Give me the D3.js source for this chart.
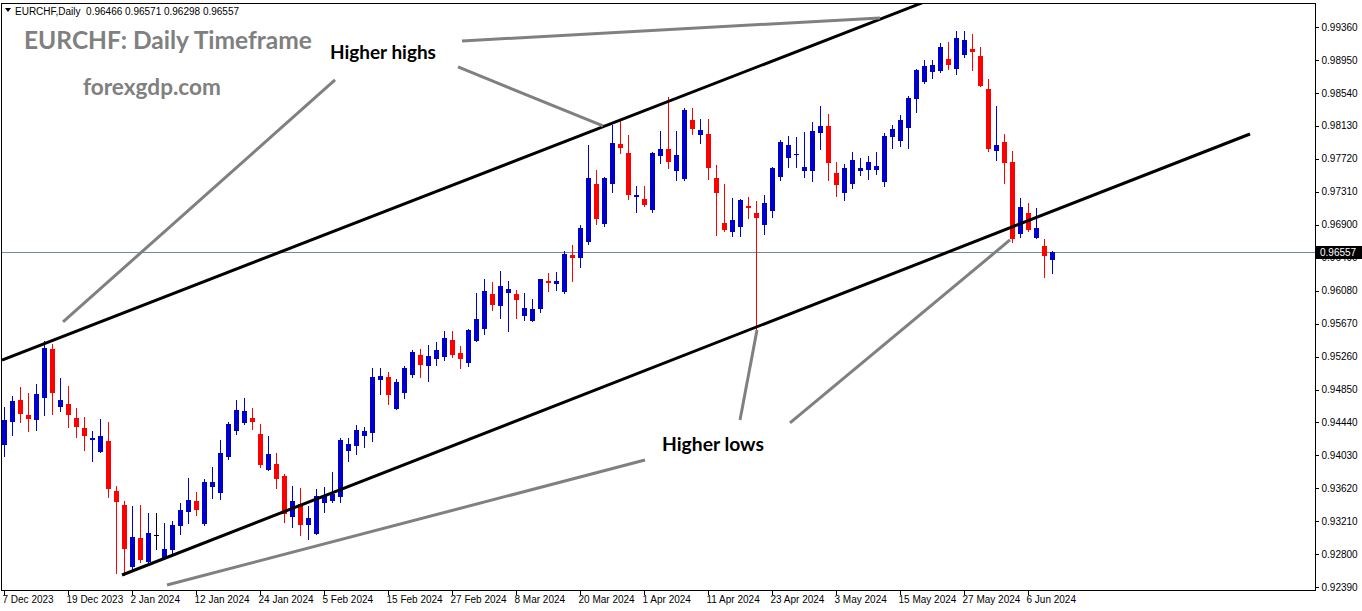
<!DOCTYPE html>
<html><head><meta charset="utf-8">
<script src="https://cdn.jsdelivr.net/npm/d3@7"></script>
<style>
html,body{margin:0;padding:0;background:#fff;}
svg{display:block;}
</style></head>
<body>
<svg id="chart" width="1362" height="611"></svg>
<script>
// ---- data ----
const opens = [0.94160,0.94450,0.94720,0.94533,0.94471,0.94748,0.95354,0.94633,0.94670,0.94496,
0.94372,0.94222,0.94073,0.94210,0.93588,0.93414,0.92643,0.93003,0.92705,0.93037,
0.92755,0.92854,0.93153,0.93327,0.93464,0.93178,0.93638,0.93563,0.94011,0.94334,
0.94434,0.94496,0.94297,0.93849,0.93924,0.93775,0.93265,0.93426,0.93165,0.93053,
0.93439,0.93464,0.93513,0.94086,0.94148,0.94272,0.94309,0.94969,0.95006,0.94608,
0.94807,0.95031,0.95280,0.95143,0.95230,0.95255,0.95466,0.95304,0.95180,0.95454,
0.95603,0.96038,0.95889,0.96051,0.96038,0.95765,0.95702,0.95852,0.96200,0.96163,
0.96063,0.96523,0.96486,0.96685,0.97406,0.96909,0.97406,0.97904,0.97792,0.97245,
0.97220,0.97083,0.97755,0.97842,0.97568,0.97469,0.98202,0.98016,0.98028,0.97481,
0.96921,0.96809,0.96872,0.97133,0.97046,0.96896,0.97071,0.97494,0.97730,0.97767,
0.97568,0.97568,0.98041,0.98128,0.97543,0.97295,0.97406,0.97568,0.97581,0.97581,
0.97431,0.97991,0.97941,0.98103,0.98464,0.98675,0.98800,0.98812,0.98961,0.98837,
0.99011,0.99086,0.98999,0.98588,0.97817,0.97929,0.97680,0.96785,0.97046,0.96735,
0.96635,0.96466];
const highs = [0.94637,0.94770,0.94885,0.94807,0.94919,0.95454,0.95413,0.94993,0.94894,0.94620,
0.94508,0.94334,0.94484,0.94446,0.93650,0.93464,0.93401,0.93414,0.93314,0.93314,
0.93190,0.93215,0.93439,0.93750,0.93576,0.93737,0.93887,0.94222,0.94442,0.94720,
0.94745,0.94620,0.94418,0.94272,0.94061,0.93799,0.93650,0.93625,0.93401,0.93613,
0.93638,0.93824,0.94247,0.94247,0.94409,0.94384,0.95118,0.95118,0.95068,0.94981,
0.95143,0.95342,0.95354,0.95404,0.95441,0.95578,0.95578,0.95392,0.95603,0.96051,
0.96225,0.96188,0.96324,0.96200,0.96088,0.96051,0.95976,0.96225,0.96299,0.96312,
0.96573,0.96648,0.96896,0.97892,0.97581,0.97494,0.98140,0.98215,0.98016,0.97382,
0.97382,0.97804,0.98066,0.98489,0.98066,0.98352,0.98352,0.98215,0.98215,0.97643,
0.97406,0.97232,0.97220,0.97245,0.97195,0.97270,0.97618,0.97954,0.98003,0.97991,
0.98053,0.98178,0.98377,0.98277,0.97680,0.97655,0.97804,0.97730,0.97755,0.97804,
0.98041,0.98140,0.98265,0.98501,0.98837,0.98949,0.98949,0.99160,0.99173,0.99309,
0.99309,0.99272,0.99110,0.98712,0.98377,0.98028,0.97817,0.97232,0.97170,0.97108,
0.96722,0.96571];
const lows = [0.94027,0.94285,0.94450,0.94334,0.94347,0.94533,0.94546,0.94583,0.94384,0.94263,
0.94098,0.93961,0.94073,0.93513,0.92568,0.92543,0.92605,0.92705,0.92668,0.92867,
0.92755,0.92780,0.93053,0.93190,0.93289,0.93165,0.93501,0.93488,0.93986,0.94297,
0.94421,0.94359,0.93887,0.93849,0.93625,0.93202,0.93140,0.93041,0.92991,0.93053,
0.93327,0.93451,0.93451,0.93961,0.94048,0.94135,0.94210,0.94794,0.94670,0.94608,
0.94745,0.95006,0.95006,0.94956,0.95155,0.95217,0.95255,0.95118,0.95143,0.95454,
0.95541,0.95839,0.95740,0.95578,0.95740,0.95715,0.95702,0.95818,0.96076,0.96088,
0.96051,0.96200,0.96374,0.96660,0.96909,0.96884,0.97307,0.97792,0.97220,0.97058,
0.97133,0.97058,0.97668,0.97605,0.97456,0.97456,0.98028,0.97916,0.97469,0.96772,
0.96822,0.96760,0.96760,0.96984,0.95590,0.96785,0.96996,0.97456,0.97618,0.97618,
0.97494,0.97444,0.97842,0.97456,0.97257,0.97207,0.97357,0.97518,0.97469,0.97531,
0.97382,0.97854,0.97879,0.97854,0.98302,0.98663,0.98725,0.98800,0.98837,0.98775,
0.98986,0.98824,0.98625,0.97817,0.97705,0.97419,0.96685,0.96747,0.96822,0.96735,
0.96250,0.96298];
const closes = [0.94471,0.94707,0.94546,0.94484,0.94794,0.95370,0.94811,0.94720,0.94533,0.94384,
0.94272,0.94247,0.94272,0.93613,0.93451,0.92867,0.93016,0.92730,0.93066,0.93037,
0.92867,0.93165,0.93352,0.93476,0.93352,0.93700,0.93700,0.94061,0.94421,0.94595,
0.94583,0.94446,0.93911,0.94048,0.93737,0.93302,0.93464,0.93165,0.93252,0.93526,
0.93526,0.93551,0.94222,0.94173,0.94347,0.94334,0.95006,0.95018,0.94782,0.94944,
0.95118,0.95317,0.95155,0.95267,0.95342,0.95491,0.95280,0.95230,0.95591,0.95727,
0.96076,0.95901,0.96138,0.96100,0.95964,0.95864,0.95852,0.96225,0.96175,0.96200,
0.96536,0.96486,0.96859,0.97481,0.96971,0.97481,0.97916,0.97854,0.97270,0.97270,
0.97145,0.97792,0.97842,0.97680,0.97767,0.98327,0.98091,0.98078,0.97605,0.97295,
0.96834,0.96959,0.97207,0.97108,0.96984,0.97170,0.97605,0.97929,0.97892,0.97780,
0.97618,0.98066,0.98128,0.97668,0.97394,0.97605,0.97705,0.97605,0.97680,0.97630,
0.98003,0.98091,0.98202,0.98476,0.98824,0.98874,0.98887,0.99110,0.98887,0.99222,
0.99197,0.99048,0.98625,0.97842,0.97892,0.97668,0.96722,0.97120,0.96834,0.96859,
0.96511,0.96557];

const xTickIndex = [0,8,16,24,32,40,48,56,64,72,80,88,96,104,112,120,128];
const xTickLabels = ["7 Dec 2023","19 Dec 2023","2 Jan 2024","12 Jan 2024","24 Jan 2024","5 Feb 2024",
"15 Feb 2024","27 Feb 2024","8 Mar 2024","20 Mar 2024","1 Apr 2024","11 Apr 2024","23 Apr 2024",
"3 May 2024","15 May 2024","27 May 2024","6 Jun 2024"];
const yTickValues = [0.99360,0.98950,0.98540,0.98130,0.97720,0.97310,0.96900,0.96490,0.96080,
0.95670,0.95260,0.94850,0.94440,0.94030,0.93620,0.93210,0.92800,0.92390];

// channel lines: [barIndex, price] pairs
const upperChannel = [[-0.25,0.95217],[114.75,0.99658]];
const lowerChannel = [[14.75,0.92543],[155.75,0.98028]];
// annotation pointer lines
const pointers = [
  [[7.375,0.95690],[41.375,0.98700]],
  [[57.25,0.99185],[109.5,0.99471]],
  [[56.75,0.98862],[74.875,0.98128]],
  [[20.375,0.92419],[80.125,0.93973]],
  [[92,0.94471],[94.125,0.95590]],
  [[98.25,0.94434],[125.75,0.96710]]
];
const lastPrice = 0.96557;
const header = "EURCHF,Daily  0.96466 0.96571 0.96298 0.96557";

// ---- drawing ----
const svg = d3.select("#chart");
const plotL = 1, plotR = 1315, plotT = 3, plotB = 590;
const x = d3.scaleLinear().domain([0,131]).range([4,1052]);
const y = d3.scaleLinear().domain([0.92390,0.99360]).range([587.3,26.9]);

svg.append("defs").append("clipPath").attr("id","clip")
  .append("rect").attr("x",plotL+1).attr("y",plotT+1).attr("width",plotR-plotL-1).attr("height",plotB-plotT-1);

const plot = svg.append("g").attr("clip-path","url(#clip)");

// current price line
plot.append("line").attr("x1",plotL).attr("x2",plotR)
  .attr("y1",Math.round(y(lastPrice))+0.5).attr("y2",Math.round(y(lastPrice))+0.5)
  .attr("stroke","#778899").attr("stroke-width",1);

// candles
const data = opens.map((o,i)=>({i,o,h:highs[i],l:lows[i],c:closes[i]}));
const col = d => d.c>d.o ? "#0000cd" : (d.c<d.o ? "#ff0000" : "#000000");
const cg = plot.append("g").attr("shape-rendering","crispEdges");
cg.selectAll("line.w").data(data).join("line").attr("class","w")
  .attr("x1",d=>Math.round(x(d.i))+0.5).attr("x2",d=>Math.round(x(d.i))+0.5)
  .attr("y1",d=>Math.round(y(d.h))).attr("y2",d=>Math.round(y(d.l))+1)
  .attr("stroke",col).attr("stroke-width",1);
cg.selectAll("rect.b").data(data).join("rect").attr("class","b")
  .attr("x",d=>Math.round(x(d.i))-2).attr("width",5)
  .attr("y",d=>Math.round(y(Math.max(d.o,d.c))))
  .attr("height",d=>Math.max(1,Math.round(y(Math.min(d.o,d.c)))-Math.round(y(Math.max(d.o,d.c)))))
  .attr("fill",col);

// channel lines
const lineGen = d3.line().x(d=>x(d[0])).y(d=>y(d[1]));
plot.selectAll("path.ch").data([upperChannel,lowerChannel]).join("path").attr("class","ch")
  .attr("d",lineGen).attr("stroke","#000").attr("stroke-width",3).attr("fill","none");
plot.selectAll("path.pt").data(pointers).join("path").attr("class","pt")
  .attr("d",lineGen).attr("stroke","#808080").attr("stroke-width",3).attr("fill","none");

// frame
svg.append("rect").attr("x",plotL+0.5).attr("y",plotT+0.5).attr("width",plotR-plotL).attr("height",plotB-plotT)
  .attr("fill","none").attr("stroke","#000").attr("stroke-width",1).attr("shape-rendering","crispEdges");

// y axis
const yAxis = d3.axisRight(y).tickValues(yTickValues).tickFormat(d3.format(".5f")).tickSize(3).tickPadding(3);
const yg = svg.append("g").attr("transform",`translate(${plotR+0.5},0)`).call(yAxis);
yg.select(".domain").remove();
yg.selectAll("text").attr("font-family","'Liberation Sans', Arial, sans-serif").attr("font-size","10px").attr("fill","#000");
yg.selectAll("line").attr("stroke","#000").attr("shape-rendering","crispEdges");

// x axis
const xAxis = d3.axisBottom(x).tickValues(xTickIndex).tickFormat((d,i)=>xTickLabels[i]).tickSize(4).tickPadding(3);
const xg = svg.append("g").attr("transform",`translate(0,${plotB+0.5})`).call(xAxis);
xg.select(".domain").remove();
xg.selectAll(".tick line").attr("transform","translate(-0.5,0)").attr("stroke","#000").attr("shape-rendering","crispEdges");
xg.selectAll("text").attr("text-anchor","start").attr("dx","-2px").attr("dy","0.55em")
  .attr("font-family","'Liberation Sans', Arial, sans-serif").attr("font-size","10px").attr("fill","#000");

// last price label
const ly = Math.round(y(lastPrice));
svg.append("rect").attr("x",plotR+1).attr("y",ly-6).attr("width",46).attr("height",13).attr("fill","#000");
svg.append("text").attr("x",plotR+5).attr("y",ly+4).text(d3.format(".5f")(lastPrice))
  .attr("font-family","'Liberation Sans', Arial, sans-serif").attr("font-size","10px").attr("fill","#fff");

// header
svg.append("path").attr("d","M5,8 L11,8 L8,12 Z").attr("fill","#000");
svg.append("text").attr("x",15).attr("y",15).text(header).attr("xml:space","preserve").style("white-space","pre")
  .attr("font-family","'Liberation Sans', Arial, sans-serif").attr("font-size","10px").attr("fill","#000");

// titles / annotations
function fitText(t, w){ const n=t.node(); const cur=n.getComputedTextLength(); const fs=parseFloat(t.attr("font-size")); t.attr("font-size",(fs*w/cur).toFixed(2)+"px"); }
const t1 = svg.append("text").attr("x",24).attr("y",49).text("EURCHF: Daily Timeframe")
  .attr("font-family","Lato, 'Open Sans', sans-serif").attr("font-weight","bold").attr("font-size","22px").attr("fill","#808080");
fitText(t1,288);
const t2 = svg.append("text").attr("x",83).attr("y",95).text("forexgdp.com")
  .attr("font-family","Lato, 'Open Sans', sans-serif").attr("font-weight","bold").attr("font-size","19px").attr("fill","#808080");
fitText(t2,138);
const t3 = svg.append("text").attr("x",330).attr("y",59).text("Higher highs")
  .attr("font-family","Lato, 'Open Sans', sans-serif").attr("font-weight","bold").attr("font-size","17px").attr("fill","#000");
fitText(t3,106);
const t4 = svg.append("text").attr("x",662).attr("y",451).text("Higher lows")
  .attr("font-family","Lato, 'Open Sans', sans-serif").attr("font-weight","bold").attr("font-size","17px").attr("fill","#000");
fitText(t4,102);
</script>
</body></html>
